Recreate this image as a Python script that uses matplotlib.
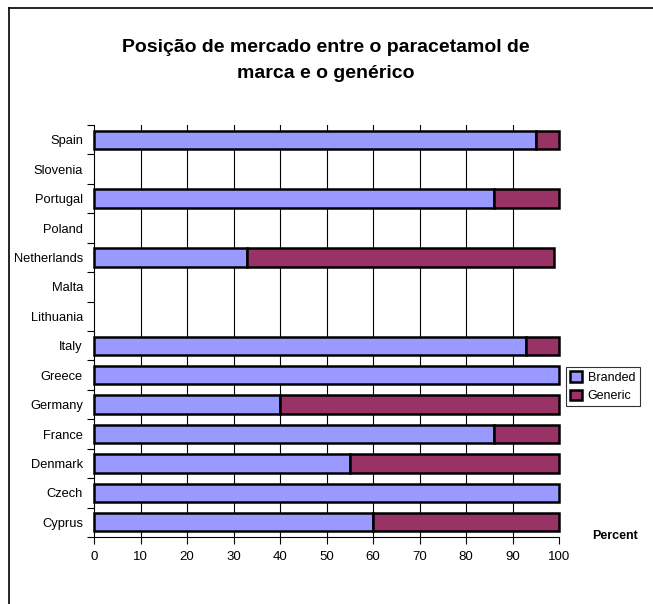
import numpy as np
import matplotlib
matplotlib.use("Agg")
import matplotlib.pyplot as plt
from matplotlib.lines import Line2D

plt.rcParams['font.family'] = ['Liberation Sans', 'DejaVu Sans']

# ---------------- data (bottom to top) ----------------
countries = ['Cyprus', 'Czech', 'Denmark', 'France', 'Germany', 'Greece', 'Italy',
             'Lithuania', 'Malta', 'Netherlands', 'Poland', 'Portugal', 'Slovenia', 'Spain']
branded = [60, 100, 55, 86, 40, 100, 93, 0, 0, 33, 0, 86, 0, 95]
generic = [40, 0, 45, 14, 60, 0, 7, 0, 0, 66, 0, 14, 0, 5]
xticks = [0, 10, 20, 30, 40, 50, 60, 70, 80, 90, 100]

W, H = 653, 604
fig = plt.figure(figsize=(W / 100, H / 100), dpi=100)
ax = fig.add_axes([94 / W, 1 - 537 / H, 465 / W, 412 / H])

y = np.arange(len(countries))
lw_b = [1.8 if v > 0 else 0 for v in branded]
lw_g = [1.8 if v > 0 else 0 for v in generic]
bb = ax.barh(y, branded, height=0.62, color='#9999FF', edgecolor='black', linewidth=lw_b,
             label='Branded', zorder=3)
bg = ax.barh(y, generic, left=branded, height=0.62, color='#993366', edgecolor='black',
             linewidth=lw_g, label='Generic', zorder=3)
for p in list(bb) + list(bg):
    p.set_clip_on(False)

# vertical gridlines
for xv in xticks[1:-1]:
    ax.axvline(xv, color='black', lw=0.8, zorder=1)

ax.set_xlim(0, 100)
ax.set_ylim(-0.5, len(countries) - 0.5)
ax.set_xticks(xticks)
ax.set_yticks(y)
ax.set_yticklabels(countries)
ax.set_yticks(np.arange(-0.5, len(countries)), minor=True)
ax.tick_params(axis='y', which='major', length=0, pad=8, labelsize=9.3)
ax.tick_params(axis='y', which='minor', length=5, width=0.8, direction='out')
ax.tick_params(axis='x', length=5, width=0.8, direction='out', labelsize=9.5, pad=5)
for s in ['top', 'right']:
    ax.spines[s].set_visible(False)
for s in ['left', 'bottom']:
    ax.spines[s].set_linewidth(0.8)

fig.text(326 / W, 1 - 47 / H, 'Posição de mercado entre o paracetamol de',
         ha='center', va='center', fontsize=14, fontweight='bold')
fig.text(326 / W, 1 - 73 / H, 'marca e o genérico',
         ha='center', va='center', fontsize=14, fontweight='bold')
fig.text(615 / W, 1 - 536 / H, 'Percent', ha='center', va='center',
         fontsize=9, fontweight='bold')

leg = fig.legend(loc='upper left', bbox_to_anchor=(566 / W, 1 - 367 / H),
                 fontsize=9, frameon=True, fancybox=False, edgecolor='black',
                 handlelength=0.9, handleheight=0.9, handletextpad=0.5,
                 borderpad=0.35, labelspacing=0.45, borderaxespad=0)
leg.get_frame().set_linewidth(0.8)

# outer chart frame
fig.add_artist(Line2D([9 / W, 9 / W], [0, 1 - 8 / H], color='black', lw=1.2))
fig.add_artist(Line2D([9 / W, 1], [1 - 8 / H, 1 - 8 / H], color='black', lw=1.2))

fig.savefig('out.png', dpi=100)
